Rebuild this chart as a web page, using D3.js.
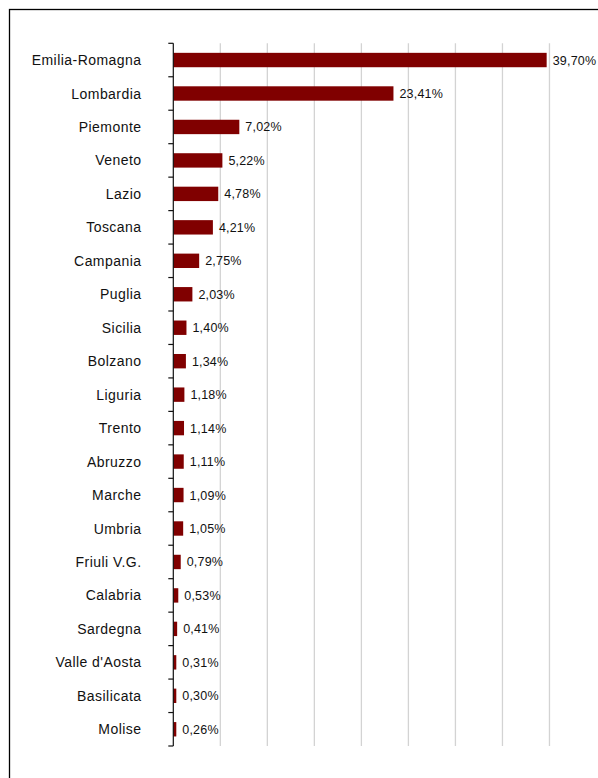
<!DOCTYPE html>
<html>
<head>
<meta charset="utf-8">
<script src="https://cdn.jsdelivr.net/npm/d3@7"></script>
<style>
  html, body { margin: 0; padding: 0; background: #fff; }
  svg { display: block; }
  text { font-family: "Liberation Sans", Arial, sans-serif; }
</style>
</head>
<body>
<svg id="chart" width="598" height="778"></svg>
<script>
// Regional shares (%)
const regions = ["Emilia-Romagna", "Lombardia", "Piemonte", "Veneto", "Lazio", "Toscana",
  "Campania", "Puglia", "Sicilia", "Bolzano", "Liguria", "Trento", "Abruzzo", "Marche",
  "Umbria", "Friuli V.G.", "Calabria", "Sardegna", "Valle d'Aosta", "Basilicata", "Molise"];
const shares = [39.70, 23.41, 7.02, 5.22, 4.78, 4.21, 2.75, 2.03, 1.40, 1.34, 1.18, 1.14,
  1.11, 1.09, 1.05, 0.79, 0.53, 0.41, 0.31, 0.30, 0.26];
const gridTicks = [5, 10, 15, 20, 25, 30, 35, 40];

const rows = regions.map((r, i) => ({ region: r, value: shares[i] }));

const svg = d3.select("#chart");

// outer frame (runs off the right and bottom edges)
svg.append("rect")
  .attr("x", 9.5).attr("y", 9.5)
  .attr("width", 620).attr("height", 800)
  .attr("fill", "none").attr("stroke", "#000").attr("stroke-width", 1.3);

const x = d3.scaleLinear().domain([0, 45]).range([173.3, 596.5]);
const y = d3.scaleBand().domain(regions).range([43.3, 746]).padding(0);

// vertical gridlines
svg.append("g").selectAll("line").data(gridTicks).join("line")
  .attr("x1", d => x(d)).attr("x2", d => x(d))
  .attr("y1", 43.3).attr("y2", 746)
  .attr("stroke", "#d3d3d3").attr("stroke-width", 1.3);

// bars
const bh = y.bandwidth() * 0.43;
svg.append("g").selectAll("rect").data(rows).join("rect")
  .attr("x", x(0))
  .attr("y", d => y(d.region) + (y.bandwidth() - bh) / 2)
  .attr("width", d => Math.max(3, x(d.value) - x(0)))
  .attr("height", bh)
  .attr("fill", "#800000");

// value labels
const fmt = v => v.toFixed(2).replace(".", ",") + "%";
svg.append("g").selectAll("text").data(rows).join("text")
  .attr("x", d => Math.max(x(0) + 3, x(d.value)) + 6)
  .attr("y", d => y(d.region) + y.bandwidth() / 2)
  .attr("dy", "0.36em")
  .attr("font-size", 12.5)
  .attr("letter-spacing", 0.2)
  .attr("fill", "#111")
  .text(d => fmt(d.value));

// category axis with ticks at band boundaries
const axisG = svg.append("g");
axisG.append("line")
  .attr("x1", x(0)).attr("x2", x(0))
  .attr("y1", 43.3).attr("y2", 746)
  .attr("stroke", "#111").attr("stroke-width", 1.2);
const bounds = regions.map(r => y(r)).concat([y.range()[1]]);
axisG.selectAll("line.tick").data(bounds).join("line")
  .attr("class", "tick")
  .attr("x1", x(0) - 5).attr("x2", x(0))
  .attr("y1", d => d).attr("y2", d => d)
  .attr("stroke", "#111").attr("stroke-width", 1.2);
axisG.selectAll("text").data(regions).join("text")
  .attr("x", 141.5)
  .attr("y", d => y(d) + y.bandwidth() / 2)
  .attr("dy", "0.36em")
  .attr("text-anchor", "end")
  .attr("font-size", 14)
  .attr("letter-spacing", 0.45)
  .attr("fill", "#111")
  .text(d => d);
</script>
</body>
</html>
